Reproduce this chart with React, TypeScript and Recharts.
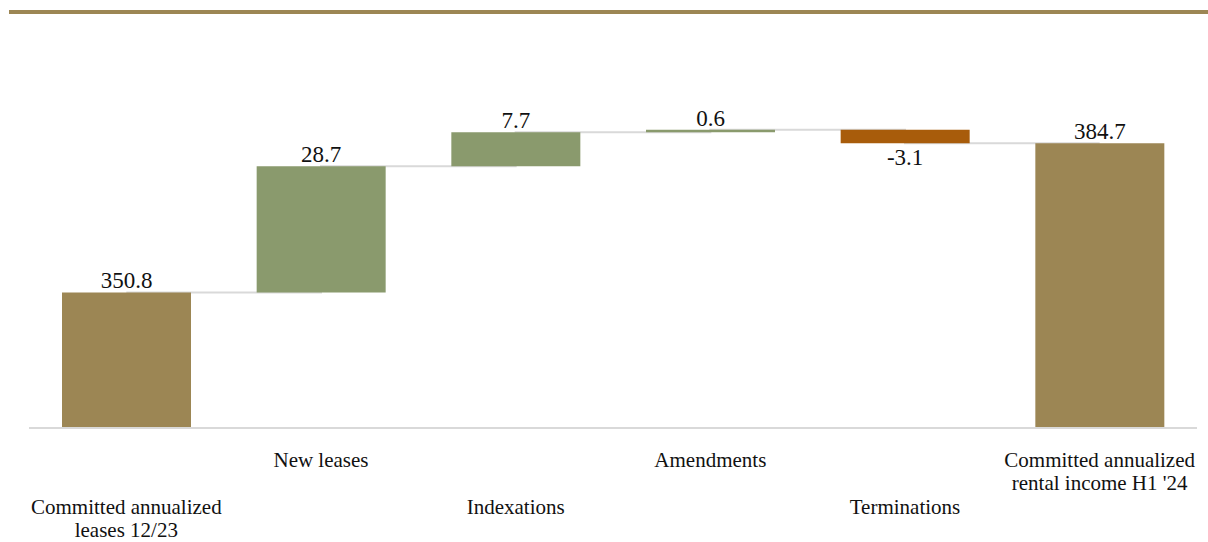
import { ComposedChart, Bar, Line, XAxis, YAxis, LabelList, Cell } from 'recharts'

const categories = [
  'Committed annualized\nleases 12/23',
  'New leases',
  'Indexations',
  'Amendments',
  'Terminations',
  "Committed annualized\nrental income H1 '24",
]
const values = [350.8, 28.7, 7.7, 0.6, -3.1, 384.7]
const kinds = ['total', 'delta', 'delta', 'delta', 'delta', 'total']

const GOLD = '#9C8654'
const GREEN = '#8A9A6D'
const RUST = '#A85C0B'
const CONNECTOR = '#D9D9D9'
const FONT = '"Liberation Serif", "Times New Roman", serif'

let running = 0
const data = categories.map((name, i) => {
  const v = values[i]
  let range: [number, number]
  if (kinds[i] === 'total') {
    range = [0, v]
    running = v
  } else {
    const next = running + v
    range = [Math.min(running, next), Math.max(running, next)]
    running = next
  }
  return { name, value: v, range, level: running }
})

const barColor = (i: number) => (kinds[i] === 'total' ? GOLD : values[i] < 0 ? RUST : GREEN)

interface TickProps {
  x?: number
  y?: number
  index?: number
  payload?: { value: string }
}

const CategoryTick = ({ x = 0, y = 0, index = 0, payload }: TickProps) => {
  const lines = String(payload?.value ?? '').split('\n')
  const first = index % 2 === 0 ? 86 : 39 // alternate rows like the original
  return (
    <text x={x} y={y + first} textAnchor="middle" fontSize={21} fill="#111" style={{ fontFamily: FONT }}>
      {lines.map((l, k) => (
        <tspan key={k} x={x} dy={k === 0 ? 0 : 23}>
          {l}
        </tspan>
      ))}
    </text>
  )
}

interface LabelProps {
  x?: number | string
  y?: number | string
  width?: number | string
  height?: number | string
  index?: number
}

const ValueLabel = ({ x = 0, y = 0, width = 0, height = 0, index = 0 }: LabelProps) => {
  const v = values[index]
  const cx = Number(x) + Number(width) / 2
  const ty = v < 0 ? Number(y) + Number(height) + 22 : Number(y) - 4
  return (
    <text x={cx} y={ty} textAnchor="middle" fontSize={23} fill="#111" style={{ fontFamily: FONT }}>
      {v.toFixed(1)}
    </text>
  )
}

export default function App() {
  return (
    <div style={{ position: 'absolute', left: 0, top: 0, width: 1208, height: 542, background: '#fff' }}>
      <div style={{ position: 'absolute', left: 9, top: 10, width: 1199, height: 4, background: GOLD }} />
      <ComposedChart width={1208} height={542} data={data} margin={{ top: 76, right: 11, left: 29, bottom: 0 }}>
        <XAxis
          dataKey="name"
          height={114}
          interval={0}
          tickLine={false}
          tickSize={0}
          tickMargin={0}
          axisLine={{ stroke: CONNECTOR, strokeWidth: 2 }}
          tick={<CategoryTick />}
        />
        <YAxis hide domain={[320, 400]} allowDataOverflow />
        <Line
          type="stepAfter"
          dataKey="level"
          stroke={CONNECTOR}
          strokeWidth={2}
          dot={false}
          activeDot={false}
          isAnimationActive={false}
          zIndex={100}
        />
        <Bar dataKey="range" barSize={129} isAnimationActive={false}>
          {data.map((_, i) => (
            <Cell key={i} fill={barColor(i)} />
          ))}
          <LabelList dataKey="value" content={<ValueLabel />} />
        </Bar>
      </ComposedChart>
    </div>
  )
}
